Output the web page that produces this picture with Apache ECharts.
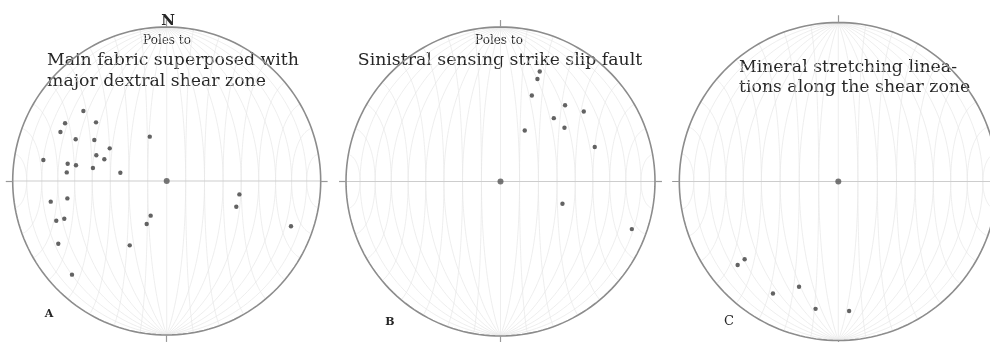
<!DOCTYPE html>
<html>
<head>
<meta charset="utf-8">
<script src="https://cdn.jsdelivr.net/npm/echarts@6/dist/echarts.min.js"></script>
<style>html,body{margin:0;padding:0;background:#fff}#c{width:990px;height:342px}</style>
</head>
<body>
<div id="c"></div>
<script>
// Normalized positions (unit = net radius; x east, y north)
const pointsA = [[-0.541,0.455],[-0.660,0.375],[-0.459,0.381],[-0.690,0.318],[-0.591,0.271],[-0.470,0.266],[-0.110,0.288],[-0.370,0.212],[-0.457,0.167],[-0.405,0.141],[-0.801,0.136],[-0.643,0.112],[-0.589,0.102],[-0.479,0.084],[-0.649,0.056],[-0.301,0.054],[-0.753,-0.134],[-0.645,-0.113],[0.472,-0.087],[0.452,-0.167],[-0.717,-0.258],[-0.665,-0.245],[-0.104,-0.225],[-0.130,-0.279],[0.807,-0.294],[-0.704,-0.407],[-0.240,-0.418],[-0.615,-0.608]];
const pointsB = [[0.254,0.712],[0.239,0.663],[0.203,0.557],[0.418,0.494],[0.539,0.453],[0.345,0.410],[0.414,0.348],[0.157,0.330],[0.610,0.223],[0.401,-0.144],[0.850,-0.308]];
const pointsC = [[-0.633,-0.525],[-0.589,-0.489],[-0.411,-0.704],[-0.247,-0.662],[-0.143,-0.801],[0.068,-0.814]];
const titleA = ['Main fabric superposed with', 'major dextral shear zone'];
const titleB = ['Sinistral sensing strike slip fault'];
const titleC = ['Mineral stretching linea-', 'tions along the shear zone'];

const panels = [
  {cx: 166.7, cy: 181, r: 154, pts: pointsA},
  {cx: 500.5, cy: 181.5, r: 154.5, pts: pointsB},
  {cx: 838.3, cy: 181.5, r: 159, pts: pointsC}
];
const K = 1.08;

// Equal-area (Schmidt) net, 10 degree
function proj(e, n, d) { const s = Math.sqrt(1 + d); return [e / s, n / s]; }
function netLines() {
  const out = [];
  const R = Math.PI / 180;
  for (let dd = 10; dd <= 80; dd += 10) {
    for (const side of [1, -1]) {
      const dlt = dd * R, line = [];
      for (let a = 0; a <= 180; a += 2) {
        const ar = a * R;
        const e = side * Math.sin(ar) * Math.cos(dlt), n = Math.cos(ar), d = Math.sin(ar) * Math.sin(dlt);
        line.push(proj(e, n, d));
      }
      out.push(line);
    }
  }
  out.push([[0, 1], [0, -1]]);
  for (let b = 10; b <= 80; b += 10) {
    for (const side of [1, -1]) {
      const br = b * R, line = [];
      for (let f = 0; f <= 180; f += 2) {
        const fr = f * R;
        const e = side * Math.cos(br), n = Math.sin(br) * Math.cos(fr), d = Math.sin(br) * Math.sin(fr);
        line.push(proj(e, n, d));
      }
      out.push(line);
    }
  }
  return out;
}
const NET = netLines();
const CIRCLE = [];
for (let a = 0; a <= 360; a += 2) CIRCLE.push([Math.cos(a * Math.PI / 180), Math.sin(a * Math.PI / 180)]);

const grid = [], xAxis = [], yAxis = [], series = [];
panels.forEach((p, i) => {
  grid.push({left: p.cx - p.r * K, top: p.cy - p.r * K, width: 2 * p.r * K, height: 2 * p.r * K,
    containLabel: false, outerBoundsMode: 'none'});
  xAxis.push({type: 'value', gridIndex: i, min: -K, max: K, show: false});
  yAxis.push({type: 'value', gridIndex: i, min: -K, max: K, show: false});
  series.push({type: 'lines', coordinateSystem: 'cartesian2d', xAxisIndex: i, yAxisIndex: i, polyline: true, silent: true,
    lineStyle: {color: '#e7e7e7', width: 0.7, opacity: 1}, data: NET.map(c => ({coords: c}))});
  series.push({type: 'lines', coordinateSystem: 'cartesian2d', xAxisIndex: i, yAxisIndex: i, polyline: true, silent: true,
    lineStyle: {color: '#cdcdcd', width: 1, opacity: 1}, data: [{coords: [[-1, 0], [1, 0]]}]});
  series.push({type: 'lines', coordinateSystem: 'cartesian2d', xAxisIndex: i, yAxisIndex: i, polyline: true, silent: true,
    lineStyle: {color: '#8c8c8c', width: 1.6, opacity: 1}, data: [{coords: CIRCLE}]});
  series.push({type: 'lines', coordinateSystem: 'cartesian2d', xAxisIndex: i, yAxisIndex: i, polyline: false, silent: true,
    lineStyle: {color: '#999', width: 1.2, opacity: 1},
    data: [{coords: [[0, 1], [0, 1.045]]}, {coords: [[0, -1], [0, -1.045]]}, {coords: [[1, 0], [1.045, 0]]}, {coords: [[-1, 0], [-1.045, 0]]}]});
  series.push({type: 'scatter', xAxisIndex: i, yAxisIndex: i, symbolSize: 6, silent: true,
    itemStyle: {color: '#555'}, data: [[0, 0]]});
  series.push({type: 'scatter', xAxisIndex: i, yAxisIndex: i, symbolSize: 4.4, silent: true,
    itemStyle: {color: '#3c3c3c'}, data: p.pts});
});

const serif = '"DejaVu Serif", serif';
const tc = '#262626';
function txt(x, y, s, size, align, weight) {
  return {type: 'text', x: x, y: y, style: {text: s, font: (weight || 'normal') + ' ' + size + 'px ' + serif,
    fill: tc, align: align || 'left', verticalAlign: 'middle'}};
}
const graphic = [
  txt(168, 21, 'N', 15, 'center', 'bold'),
  txt(167, 41, 'Poles to', 12, 'center'),
  txt(47, 61, titleA[0], 17.3, 'left'),
  txt(47, 82, titleA[1], 17.3, 'left'),
  txt(49, 314, 'A', 11, 'center', 'bold'),
  txt(499, 41, 'Poles to', 12, 'center'),
  txt(500, 61, titleB[0], 17.3, 'center'),
  txt(390, 322, 'B', 11, 'center', 'bold'),
  txt(739, 68, titleC[0], 17.3, 'left'),
  txt(739, 88, titleC[1], 17.3, 'left'),
  txt(729, 322, 'C', 13, 'center', 'normal')
];

const chart = echarts.init(document.getElementById('c'), null, {renderer: 'canvas'});
chart.setOption({animation: false, backgroundColor: '#fff', grid, xAxis, yAxis, series, graphic});
</script>
</body>
</html>
